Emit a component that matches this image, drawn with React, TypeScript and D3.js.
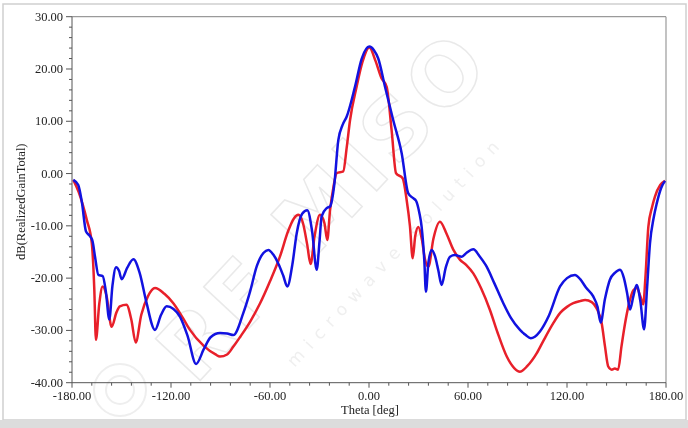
import React from "react";
import * as d3 from "d3";

const redTheta = [-179.2, -176, -171, -168, -166.5, -165.5, -163.5, -161.4, -159, -156, -153, -151, -147, -144, -141.4, -138, -134, -129.7, -124, -118.6, -113, -108.5, -100, -93, -90.3, -86, -82.2, -78, -72, -66, -60, -54, -49, -45.5, -42.8, -40, -37.5, -35.4, -33, -29.7, -27, -25.3, -23.6, -21.5, -19.6, -15.6, -13.5, -11.5, -7.5, -4, 0.2, 4, 7.5, 10.7, 13.7, 16.4, 20.4, 22.8, 24.8, 26.5, 28, 29.9, 32, 34, 36, 39, 43, 47, 51, 55.2, 59, 63.2, 68, 73.3, 78, 83.5, 88, 91.5, 96, 101.6, 106, 111.7, 116, 120, 123.8, 127.9, 131, 135, 138, 141, 143, 145, 147.1, 149, 151, 153, 155, 157.2, 160.2, 162.2, 164.5, 166.2, 167.5, 169.3, 171.5, 173.3, 176.5, 179.4];
const redDb = [-1.2, -3.5, -8.9, -13.3, -22, -31.8, -25, -21.6, -23.5, -29.3, -26.5, -25.4, -25.1, -28, -32.3, -27, -23.5, -21.9, -23, -24.8, -27.5, -29.9, -33, -34.6, -35, -34.6, -33.1, -31.2, -28.3, -24.8, -20.6, -15.9, -11, -8.6, -7.9, -9.5, -13.5, -17.3, -12, -7.9, -9.5, -12.7, -7, -2.5, 0.06, 0.4, 5, 10.2, 16.6, 21.3, 24.1, 21.5, 18.3, 16.6, 8.3, 0.06, -0.9, -5, -10, -16.2, -12, -10.2, -12.5, -16.5, -17.8, -12.5, -9.2, -11.5, -14.5, -16.5, -17.5, -19.1, -22, -26.1, -30.5, -35, -37.2, -37.9, -36.8, -34.4, -31.8, -28.6, -26.6, -25.5, -24.8, -24.4, -24.2, -24.6, -25.8, -28.6, -33, -36.9, -37.5, -37.3, -37.5, -33.1, -29, -25.4, -22.3, -21.9, -23.5, -25, -20, -10.2, -6.5, -4.4, -2.2, -1.4];

const blueTheta = [-179.2, -176.2, -174, -171.5, -169, -167.5, -166, -164, -161.4, -159.5, -157.4, -155.5, -153.3, -151.5, -149.9, -146.5, -142.8, -139, -135, -129.7, -126, -122.6, -118.5, -114.5, -110, -104.8, -100, -96, -90.3, -86, -82.2, -76.2, -72, -68.1, -64, -61, -58, -55, -52, -49.5, -46.5, -43.8, -40.5, -37.4, -34.5, -31.7, -30, -28.7, -25.6, -23.6, -21, -18.6, -16, -13.5, -8.5, -4.4, 0.2, 3, 5.6, 9.7, 14.7, 19.8, 23.8, 26.8, 28.5, 30.5, 31.9, 33.5, 34.5, 36, 38, 40, 42, 44, 46.5, 49.1, 52.1, 56.2, 59, 63.2, 67, 71.3, 76, 81.4, 86, 91.5, 95, 98, 100.5, 103.6, 109, 115.8, 120, 124.8, 128, 131.5, 135.9, 138.5, 140.4, 143, 146, 149, 152.1, 154.5, 156.5, 158.2, 160.2, 162.2, 164.5, 166.7, 168.5, 170.3, 172.5, 174.4, 177, 179.4];
const blueDb = [-1.2, -2.2, -5.5, -11.1, -12, -13, -16, -19.4, -19.6, -22.5, -27.9, -21.5, -17.9, -18.6, -20.2, -18, -16.4, -19, -24.5, -29.9, -27, -25.4, -25.9, -27.4, -31, -36.4, -33.5, -31.3, -30.5, -30.6, -30.9, -26.7, -22.5, -17.8, -15.2, -14.6, -15.5, -17.2, -19.5, -21.6, -17.5, -11.4, -7.7, -7, -11, -18.4, -13, -8.2, -6.6, -6.3, -2, 6.4, 9.3, 10.9, 16.6, 22, 24.3, 23.6, 22, 16.6, 10.2, 3.9, -3.8, -4.7, -5.2, -7.5, -10.2, -16.5, -22.6, -17, -14.6, -15.8, -18.5, -21.3, -18, -15.9, -15.6, -15.9, -15.2, -14.5, -15.8, -17.8, -21, -24.8, -27.6, -29.9, -30.9, -31.5, -31.2, -30.2, -27.2, -21.6, -20, -19.4, -20.2, -21.8, -23.5, -25.5, -28.5, -24, -20.3, -19, -18.4, -20, -23, -26, -23.5, -21.3, -24.5, -29.8, -22, -13.3, -8.5, -5.7, -2.8, -1.4];

const xTicks = [-180, -120, -60, 0, 60, 120, 180];
const yTicks = [30, 20, 10, 0, -10, -20, -30, -40];

const W = 688;
const H = 428;
const L = 72;
const R = 666;
const T = 16.7;
const B = 382.7;

export default function App() {
  const x = d3.scaleLinear().domain([-180, 180]).range([L, R]);
  const y = d3.scaleLinear().domain([-40, 30]).range([B, T]);
  const line = d3
    .line<[number, number]>()
    .x((d) => x(d[0]))
    .y((d) => y(d[1]))
    .curve(d3.curveMonotoneX);
  const redPts: [number, number][] = redTheta.map((t, i) => [t, redDb[i]]);
  const bluePts: [number, number][] = blueTheta.map((t, i) => [t, blueDb[i]]);
  const xMinor = d3.range(-180, 181, 12);
  const yMinor = d3.range(-40, 31, 2);
  const font = "'Liberation Serif', 'DejaVu Serif', serif";
  const axisColor = "#555";

  return (
    <svg
      width={W}
      height={H}
      style={{ position: "absolute", left: 0, top: 0, background: "#fff" }}
    >
      <rect x={0} y={0} width={W} height={H} fill="#fff" />
      {/* outer frame */}
      <rect x={3} y={4} width={683} height={416} fill="none" stroke="#cfcfcf" strokeWidth={1.5} />
      <rect x={0} y={420} width={W} height={8} fill="#dcdcdc" />

      {/* watermark */}
      <g opacity={0.55}>
        <text
          x={0}
          y={0}
          transform="translate(345,225) rotate(-47)"
          textAnchor="middle"
          fontFamily="'DejaVu Sans', sans-serif"
          fontWeight="bold"
          fontSize={84}
          fill="none"
          stroke="#d8d8d8"
          strokeWidth={1.5}
          letterSpacing={6}
        >
          RF MISO
        </text>
        <text
          x={0}
          y={0}
          transform="translate(400,255) rotate(-47)"
          textAnchor="middle"
          fontFamily="'DejaVu Sans', sans-serif"
          fontSize={17}
          fill="#e2e2e2"
          letterSpacing={8}
        >
          microwave solution
        </text>
        <circle cx={120} cy={390} r={26} fill="none" stroke="#e0e0e0" strokeWidth={2} />
        <circle cx={120} cy={390} r={14} fill="none" stroke="#e0e0e0" strokeWidth={2} />
      </g>

      {/* plot border top/right */}
      <line x1={L} x2={R} y1={T} y2={T} stroke="#9a9a9a" strokeWidth={1.2} />
      <line x1={R} x2={R} y1={T} y2={B} stroke="#9a9a9a" strokeWidth={1.2} />

      {/* axes */}
      <line x1={L} x2={L} y1={T} y2={B} stroke={axisColor} strokeWidth={1} />
      <line x1={L} x2={R} y1={B} y2={B} stroke={axisColor} strokeWidth={1} />
      {yMinor.map((v) => (
        <line
          key={"ym" + v}
          x1={L - (v % 10 === 0 ? 6 : 3)}
          x2={L}
          y1={y(v)}
          y2={y(v)}
          stroke={axisColor}
          strokeWidth={1}
        />
      ))}
      {xMinor.map((v) => (
        <line
          key={"xm" + v}
          x1={x(v)}
          x2={x(v)}
          y1={B}
          y2={B + (v % 60 === 0 ? 5 : 3)}
          stroke={axisColor}
          strokeWidth={1}
        />
      ))}
      {yTicks.map((v) => (
        <text
          key={"yt" + v}
          x={L - 9}
          y={y(v) + 4}
          textAnchor="end"
          fontFamily={font}
          fontSize={12.5}
          fill="#222"
        >
          {v.toFixed(2)}
        </text>
      ))}
      {xTicks.map((v) => (
        <text
          key={"xt" + v}
          x={x(v)}
          y={B + 17}
          textAnchor="middle"
          fontFamily={font}
          fontSize={12.5}
          fill="#222"
        >
          {v.toFixed(2)}
        </text>
      ))}
      <text
        x={(L + R) / 2 + 1}
        y={414}
        textAnchor="middle"
        fontFamily={font}
        fontSize={12.5}
        fill="#222"
      >
        Theta [deg]
      </text>
      <text
        transform={`translate(25,${(T + B) / 2 + 2}) rotate(-90)`}
        textAnchor="middle"
        fontFamily={font}
        fontSize={12.5}
        fill="#222"
      >
        dB(RealizedGainTotal)
      </text>

      {/* curves */}
      <path d={line(redPts) || ""} fill="none" stroke="#e8202a" strokeWidth={2.5} strokeLinejoin="round" />
      <path d={line(bluePts) || ""} fill="none" stroke="#1212e0" strokeWidth={2.5} strokeLinejoin="round" />
    </svg>
  );
}
